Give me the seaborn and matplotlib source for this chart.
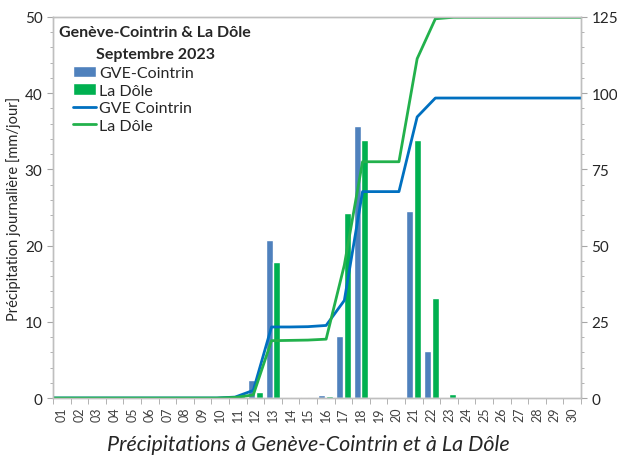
import matplotlib
matplotlib.use("Agg")
import matplotlib.pyplot as plt
from matplotlib.ticker import MultipleLocator, FixedLocator
import seaborn as sns
import pandas as pd

days = ["%02d" % d for d in range(1, 31)]

# daily precipitation [mm/jour]
gve_daily = [0, 0, 0, 0, 0, 0, 0, 0, 0, 0, 0.3, 2.3, 20.7, 0, 0.1, 0.4, 8.2, 35.7,
             0, 0, 24.5, 6.2, 0, 0, 0, 0, 0, 0, 0, 0]
dole_daily = [0, 0, 0, 0, 0, 0, 0, 0, 0, 0, 0.2, 0.8, 17.8, 0.1, 0.1, 0.3, 24.3, 33.9,
              0, 0, 33.8, 13.1, 0.5, 0, 0, 0, 0, 0, 0, 0]

# cumulated precipitation [mm] (right axis)
gve_cumul = [0, 0, 0, 0, 0, 0, 0, 0, 0, 0, 0.3, 2.5, 23.3, 23.3, 23.4, 23.8, 32.0, 67.7,
             67.7, 67.7, 92.2, 98.4, 98.4, 98.4, 98.4, 98.4, 98.4, 98.4, 98.4, 98.4]
dole_cumul = [0, 0, 0, 0, 0, 0, 0, 0, 0, 0, 0.2, 1.0, 18.8, 18.9, 19.0, 19.3, 43.6, 77.5,
              77.5, 77.5, 111.3, 124.4, 124.9, 124.9, 124.9, 124.9, 124.9, 124.9, 124.9, 124.9]

bar_names = ["GVE-Cointrin", "La Dôle"]
line_names = ["GVE Cointrin", "La Dôle"]

bars = pd.DataFrame({
    "day": days * 2,
    "station": [bar_names[0]] * 30 + [bar_names[1]] * 30,
    "mm": gve_daily + dole_daily,
})
# lines are drawn "on tick marks": spread from left to right edge
line_x = [-0.5 + i * 30 / 29 for i in range(30)]
lines = pd.DataFrame({
    "x": line_x * 2,
    "station": [line_names[0]] * 30 + [line_names[1]] * 30,
    "mm": gve_cumul + dole_cumul,
})

sns.set_style("white")
plt.rcParams["font.family"] = ["Lato", "DejaVu Sans"]

fig = plt.figure(figsize=(6.17, 4.6), dpi=100)
ax = fig.add_axes([0.0859, 0.1326, 0.8558, 0.8284])

sns.barplot(data=bars, x="day", y="mm", hue="station", hue_order=bar_names,
            palette=["#4F81BD", "#00B050"], width=0.9, gap=0.12,
            saturation=1, ax=ax, legend=True)

ax2 = ax.twinx()
sns.lineplot(data=lines, x="x", y="mm", hue="station", hue_order=line_names,
             palette=["#0070C0", "#22B14C"], linewidth=2, ax=ax2, legend=True)

ax.set_xlim(-0.5, 29.5)
ax.set_ylim(0, 50)
ax2.set_ylim(0, 125)

ax.set_xlabel("")
ax.set_ylabel("Précipitation journalière [mm/jour]", fontsize=10.5, labelpad=3)
ax2.set_ylabel("")

ax.yaxis.set_major_locator(MultipleLocator(10))
ax.yaxis.set_minor_locator(MultipleLocator(2))
ax2.yaxis.set_major_locator(MultipleLocator(25))
ax2.yaxis.set_minor_locator(MultipleLocator(5))
ax.xaxis.set_minor_locator(FixedLocator([i - 0.5 for i in range(31)]))

ax.tick_params(axis="x", which="major", length=0, labelsize=9, labelrotation=90, pad=6,
               labelcolor="#404040")
ax.tick_params(axis="x", which="minor", length=4, color="#A6A6A6", direction="out", bottom=True)
ax.tick_params(axis="y", which="major", length=4, color="#A6A6A6", labelsize=11, left=True)
ax.tick_params(axis="y", which="minor", length=2.5, color="#A6A6A6", left=True)
ax2.tick_params(axis="y", which="major", length=4, color="#A6A6A6", labelsize=11, right=True)
ax2.tick_params(axis="y", which="minor", length=2.5, color="#A6A6A6", right=True)

for a in (ax, ax2):
    for s in a.spines.values():
        s.set_color("#BFBFBF")
        s.set_linewidth(1)

h1, l1 = ax.get_legend_handles_labels()
h2, l2 = ax2.get_legend_handles_labels()
ax.get_legend().remove()
ax2.get_legend().remove()
ax2.legend(h1 + h2, l1 + l2, loc="upper left", bbox_to_anchor=(0.037, 0.872),
           frameon=False, fontsize=11.5, handlelength=1.5, handletextpad=0.15,
           labelspacing=0.22, borderaxespad=0.0, borderpad=0.0)

fig.text(155 / 617, 1 - 33 / 460, "Genève-Cointrin & La Dôle", ha="center", va="center",
         fontsize=11.5, fontweight="bold")
fig.text(155 / 617, 1 - 55 / 460, "Septembre 2023", ha="center", va="center",
         fontsize=11.5, fontweight="bold")

fig.text(0.5, 0.032, "Précipitations à Genève-Cointrin et à La Dôle",
         ha="center", va="center", fontsize=15.5, style="italic")

fig.savefig("out.png", dpi=100)
